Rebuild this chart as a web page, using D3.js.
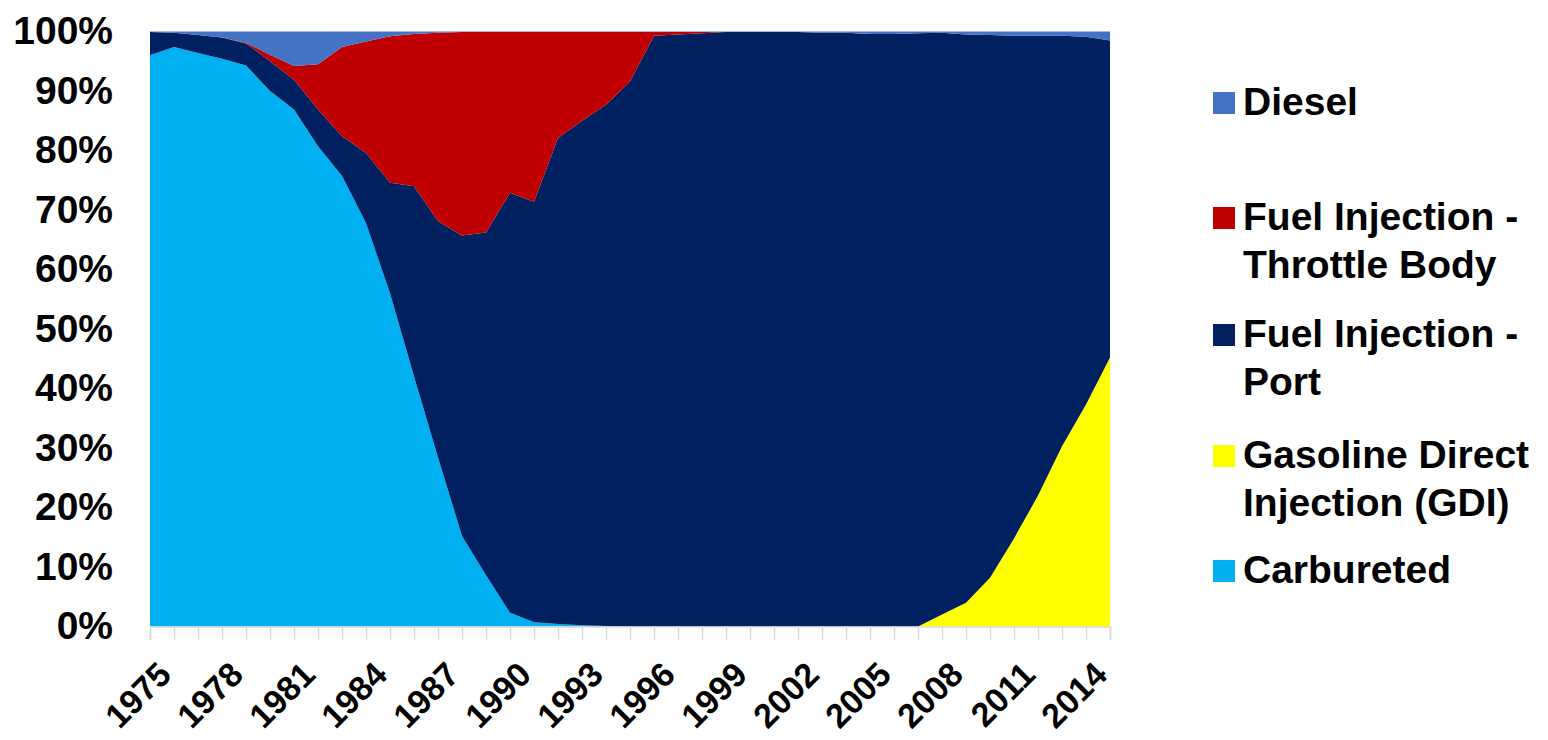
<!DOCTYPE html>
<html>
<head>
<meta charset="utf-8">
<script src="https://cdn.jsdelivr.net/npm/d3@7"></script>
<style>
    body { margin: 0; background: #fff; }
    svg { display: block; font-family: "Liberation Sans", Arial, sans-serif; }
</style>
</head>
<body>
<div id="chart"></div>
<script>
const W = 1548, H = 740;
const margin = { top: 31.5, right: 436, bottom: 113, left: 150 };

const years = d3.range(1975, 2016);
const labelYears = d3.range(1975, 2016, 3);

// shares in percent (bottom of stack first)
const carbureted = [96.0, 97.4, 96.4, 95.4, 94.3, 90.0, 86.9, 80.7, 75.7, 67.8,
    56.0, 42.0, 28.4, 15.2, 8.6, 2.3, 0.7, 0.4, 0.2, 0.1,
    0, 0, 0, 0, 0, 0, 0, 0, 0, 0,
    0, 0, 0, 0, 0, 0, 0, 0, 0, 0, 0];
const gdi = [0, 0, 0, 0, 0, 0, 0, 0, 0, 0,
    0, 0, 0, 0, 0, 0, 0, 0, 0, 0,
    0, 0, 0, 0, 0, 0, 0, 0, 0, 0,
    0, 0, 0, 2.0, 4.0, 8.2, 14.8, 22.0, 30.3, 37.3, 45.2];
const port = [3.9, 2.4, 3.0, 3.6, 3.7, 5.0, 5.0, 6.2, 6.7, 11.8,
    18.6, 32.0, 39.7, 50.5, 57.6, 70.6, 70.7, 81.7, 84.8, 87.6,
    91.6, 99.3, 99.5, 99.7, 99.9, 99.9, 99.9, 99.9, 99.8, 99.8,
    99.6, 99.6, 99.7, 97.8, 95.5, 91.2, 84.5, 77.3, 69.0, 61.8, 53.3];
const throttleBody = [0, 0, 0, 0, 0.1, 1.1, 2.3, 7.6, 15.0, 18.7,
    24.6, 25.6, 31.7, 34.2, 33.7, 27.0, 28.5, 17.8, 14.9, 12.2,
    8.3, 0.6, 0.4, 0.2, 0, 0, 0, 0, 0, 0,
    0, 0, 0, 0, 0, 0, 0, 0, 0, 0, 0];
const diesel = [0.1, 0.2, 0.6, 1.0, 1.9, 3.9, 5.8, 5.5, 2.6, 1.7,
    0.8, 0.4, 0.2, 0.1, 0.1, 0.1, 0.1, 0.1, 0.1, 0.1,
    0.1, 0.1, 0.1, 0.1, 0.1, 0.1, 0.1, 0.1, 0.2, 0.2,
    0.4, 0.4, 0.3, 0.2, 0.5, 0.6, 0.7, 0.7, 0.7, 0.9, 1.5];

const keys = ["carb", "gdi", "port", "tbi", "diesel"];
const colors = {
    carb: "#00b0f0",
    gdi: "#ffff00",
    port: "#002060",
    tbi: "#c00000",
    diesel: "#4472c4",
};

// legend, top to bottom
const legendItems = [
    { key: "diesel", lines: ["Diesel"], baseline: 115 },
    { key: "tbi", lines: ["Fuel Injection -", "Throttle Body"], baseline: 230 },
    { key: "port", lines: ["Fuel Injection -", "Port"], baseline: 347 },
    { key: "gdi", lines: ["Gasoline Direct", "Injection (GDI)"], baseline: 468 },
    { key: "carb", lines: ["Carbureted"], baseline: 583 },
];

const table = years.map((yr, i) => ({
    year: yr,
    carb: carbureted[i],
    gdi: gdi[i],
    port: port[i],
    tbi: throttleBody[i],
    diesel: diesel[i],
}));

const svg = d3.select("#chart").append("svg")
    .attr("width", W)
    .attr("height", H);

const x = d3.scalePoint()
    .domain(years)
    .range([margin.left, W - margin.right - 2]);

const y = d3.scaleLinear()
    .domain([0, 1])
    .range([H - margin.bottom - 0.5, margin.top]);

const series = d3.stack()
    .keys(keys)
    .offset(d3.stackOffsetExpand)(table);

const area = d3.area()
    .x((d) => x(d.data.year))
    .y0((d) => y(d[0]))
    .y1((d) => y(d[1]));

svg.append("g")
    .selectAll("path")
    .data(series)
    .enter()
    .append("path")
    .attr("d", area)
    .attr("fill", (d) => colors[d.key]);

// category axis: light ticks at every year
const xAxis = svg.append("g")
    .attr("transform", `translate(0, ${y(0)})`)
    .call(d3.axisBottom(x).tickSize(13).tickFormat(""));
xAxis.select(".domain").attr("stroke", "#d9d9d9").attr("stroke-width", 1.5);
xAxis.selectAll(".tick line").attr("stroke", "#d9d9d9").attr("stroke-width", 1.5);

svg.append("g")
    .selectAll("text")
    .data(labelYears)
    .enter()
    .append("text")
    .attr("transform", (d) => `translate(${x(d) + 6}, ${y(0) + 33}) rotate(-45)`)
    .attr("text-anchor", "end")
    .attr("dy", "0.71em")
    .style("font-size", "34px")
    .style("font-weight", "bold")
    .text((d) => d);

// value axis: labels only
const yAxis = svg.append("g")
    .attr("transform", `translate(${margin.left}, 0)`)
    .call(d3.axisLeft(y).ticks(10).tickSize(0).tickPadding(37).tickFormat(d3.format(".0%")));
yAxis.select(".domain").remove();
yAxis.selectAll("text")
    .attr("fill", "#000")
    .style("font-size", "39px")
    .style("font-weight", "bold")
    .style("font-family", "'Liberation Sans', Arial, sans-serif");

const legend = svg.append("g");
const item = legend.selectAll("g")
    .data(legendItems)
    .enter()
    .append("g");

item.append("rect")
    .attr("x", 1213)
    .attr("y", (d) => d.baseline - 23)
    .attr("width", 22)
    .attr("height", 22)
    .attr("fill", (d) => colors[d.key]);

item.append("text")
    .attr("x", 1243)
    .attr("y", (d) => d.baseline)
    .style("font-size", "39px")
    .style("font-weight", "bold")
    .selectAll("tspan")
    .data((d) => d.lines)
    .enter()
    .append("tspan")
    .attr("x", 1243)
    .attr("dy", (d, i) => (i === 0 ? 0 : 48))
    .text((d) => d);
</script>
</body>
</html>
